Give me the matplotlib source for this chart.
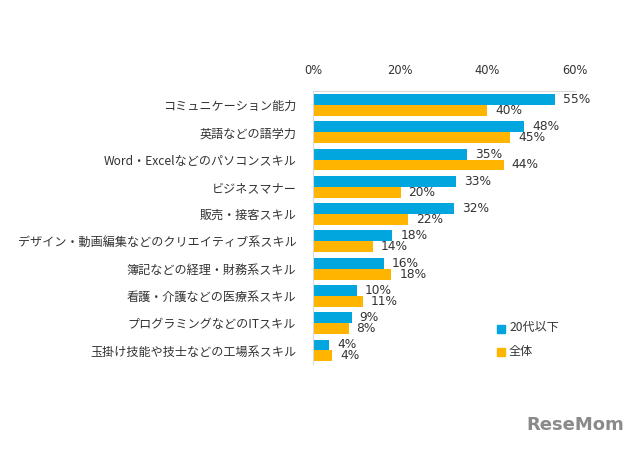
import matplotlib
matplotlib.use('Agg')
import matplotlib.pyplot as plt
import numpy as np

plt.rcParams['font.family'] = ['Noto Sans CJK JP', 'DejaVu Sans']

categories = ['コミュニケーション能力', '英語などの語学力', 'Word・Excelなどのパソコンスキル',
              'ビジネスマナー', '販売・接客スキル', 'デザイン・動画編集などのクリエイティブ系スキル',
              '簿記などの経理・財務系スキル', '看護・介護などの医療系スキル',
              'プログラミングなどのITスキル', '玉掛け技能や技士などの工場系スキル']
young = [55.4, 48.4, 35.3, 32.8, 32.3, 18.2, 16.3, 10.1, 8.9, 3.7]
overall = [40.0, 45.2, 43.7, 20.1, 21.8, 13.8, 18.0, 11.4, 8.2, 4.4]
series_names = ['20代以下', '全体']
xticks = [0, 20, 40, 60]

BLUE = '#00A6DD'
ORANGE = '#FFB500'
TXT = '#333333'

fig = plt.figure(figsize=(6.4, 4.5), dpi=100)
ax = fig.add_axes([0.489, 0.191, 0.409, 0.606])

y = np.arange(len(categories))
h = 0.4
ax.barh(y - h/2, young, h, color=BLUE, label=series_names[0])
ax.barh(y + h/2, overall, h, color=ORANGE, label=series_names[1])

for yi, v in zip(y, young):
    ax.text(v + 1.8, yi - h/2, f'{v:.0f}%', va='center', ha='left',
            fontsize=8.8, color=TXT, family='DejaVu Sans')
for yi, v in zip(y, overall):
    ax.text(v + 1.8, yi + h/2, f'{v:.0f}%', va='center', ha='left',
            fontsize=8.8, color=TXT, family='DejaVu Sans')

ax.set_xlim(0, 60)
ax.set_ylim(len(categories) - 0.5, -0.5)
ax.set_yticks(y)
ax.set_yticklabels(categories, fontsize=8.7, color=TXT)
ax.set_xticks(xticks)
ax.set_xticklabels([f'{t}%' for t in xticks], fontsize=8.3, color=TXT, family='DejaVu Sans')
ax.xaxis.tick_top()
ax.tick_params(axis='x', length=0, pad=10)
ax.tick_params(axis='y', length=0, pad=12)

for s in ('right', 'bottom'):
    ax.spines[s].set_visible(False)
for s in ('top', 'left'):
    ax.spines[s].set_color('#d9d9d9')
    ax.spines[s].set_linewidth(0.8)

# legend
fig.patches.append(plt.Rectangle((497/640, 1 - 333/450), 8/640, 8/450,
                                 color=BLUE, transform=fig.transFigure))
fig.patches.append(plt.Rectangle((497/640, 1 - 356/450), 8/640, 8/450,
                                 color=ORANGE, transform=fig.transFigure))
fig.text(509/640, 1 - 328/450, series_names[0], fontsize=8.7, color=TXT, va='center')
fig.text(509/640, 1 - 351/450, series_names[1], fontsize=8.7, color=TXT, va='center')

fig.text(0.975, 0.055, 'ReseMom', fontsize=13, fontweight='bold', color='#8a8a8a',
         ha='right', va='center', family='DejaVu Sans')

fig.savefig('out.png', dpi=100, facecolor='white')
